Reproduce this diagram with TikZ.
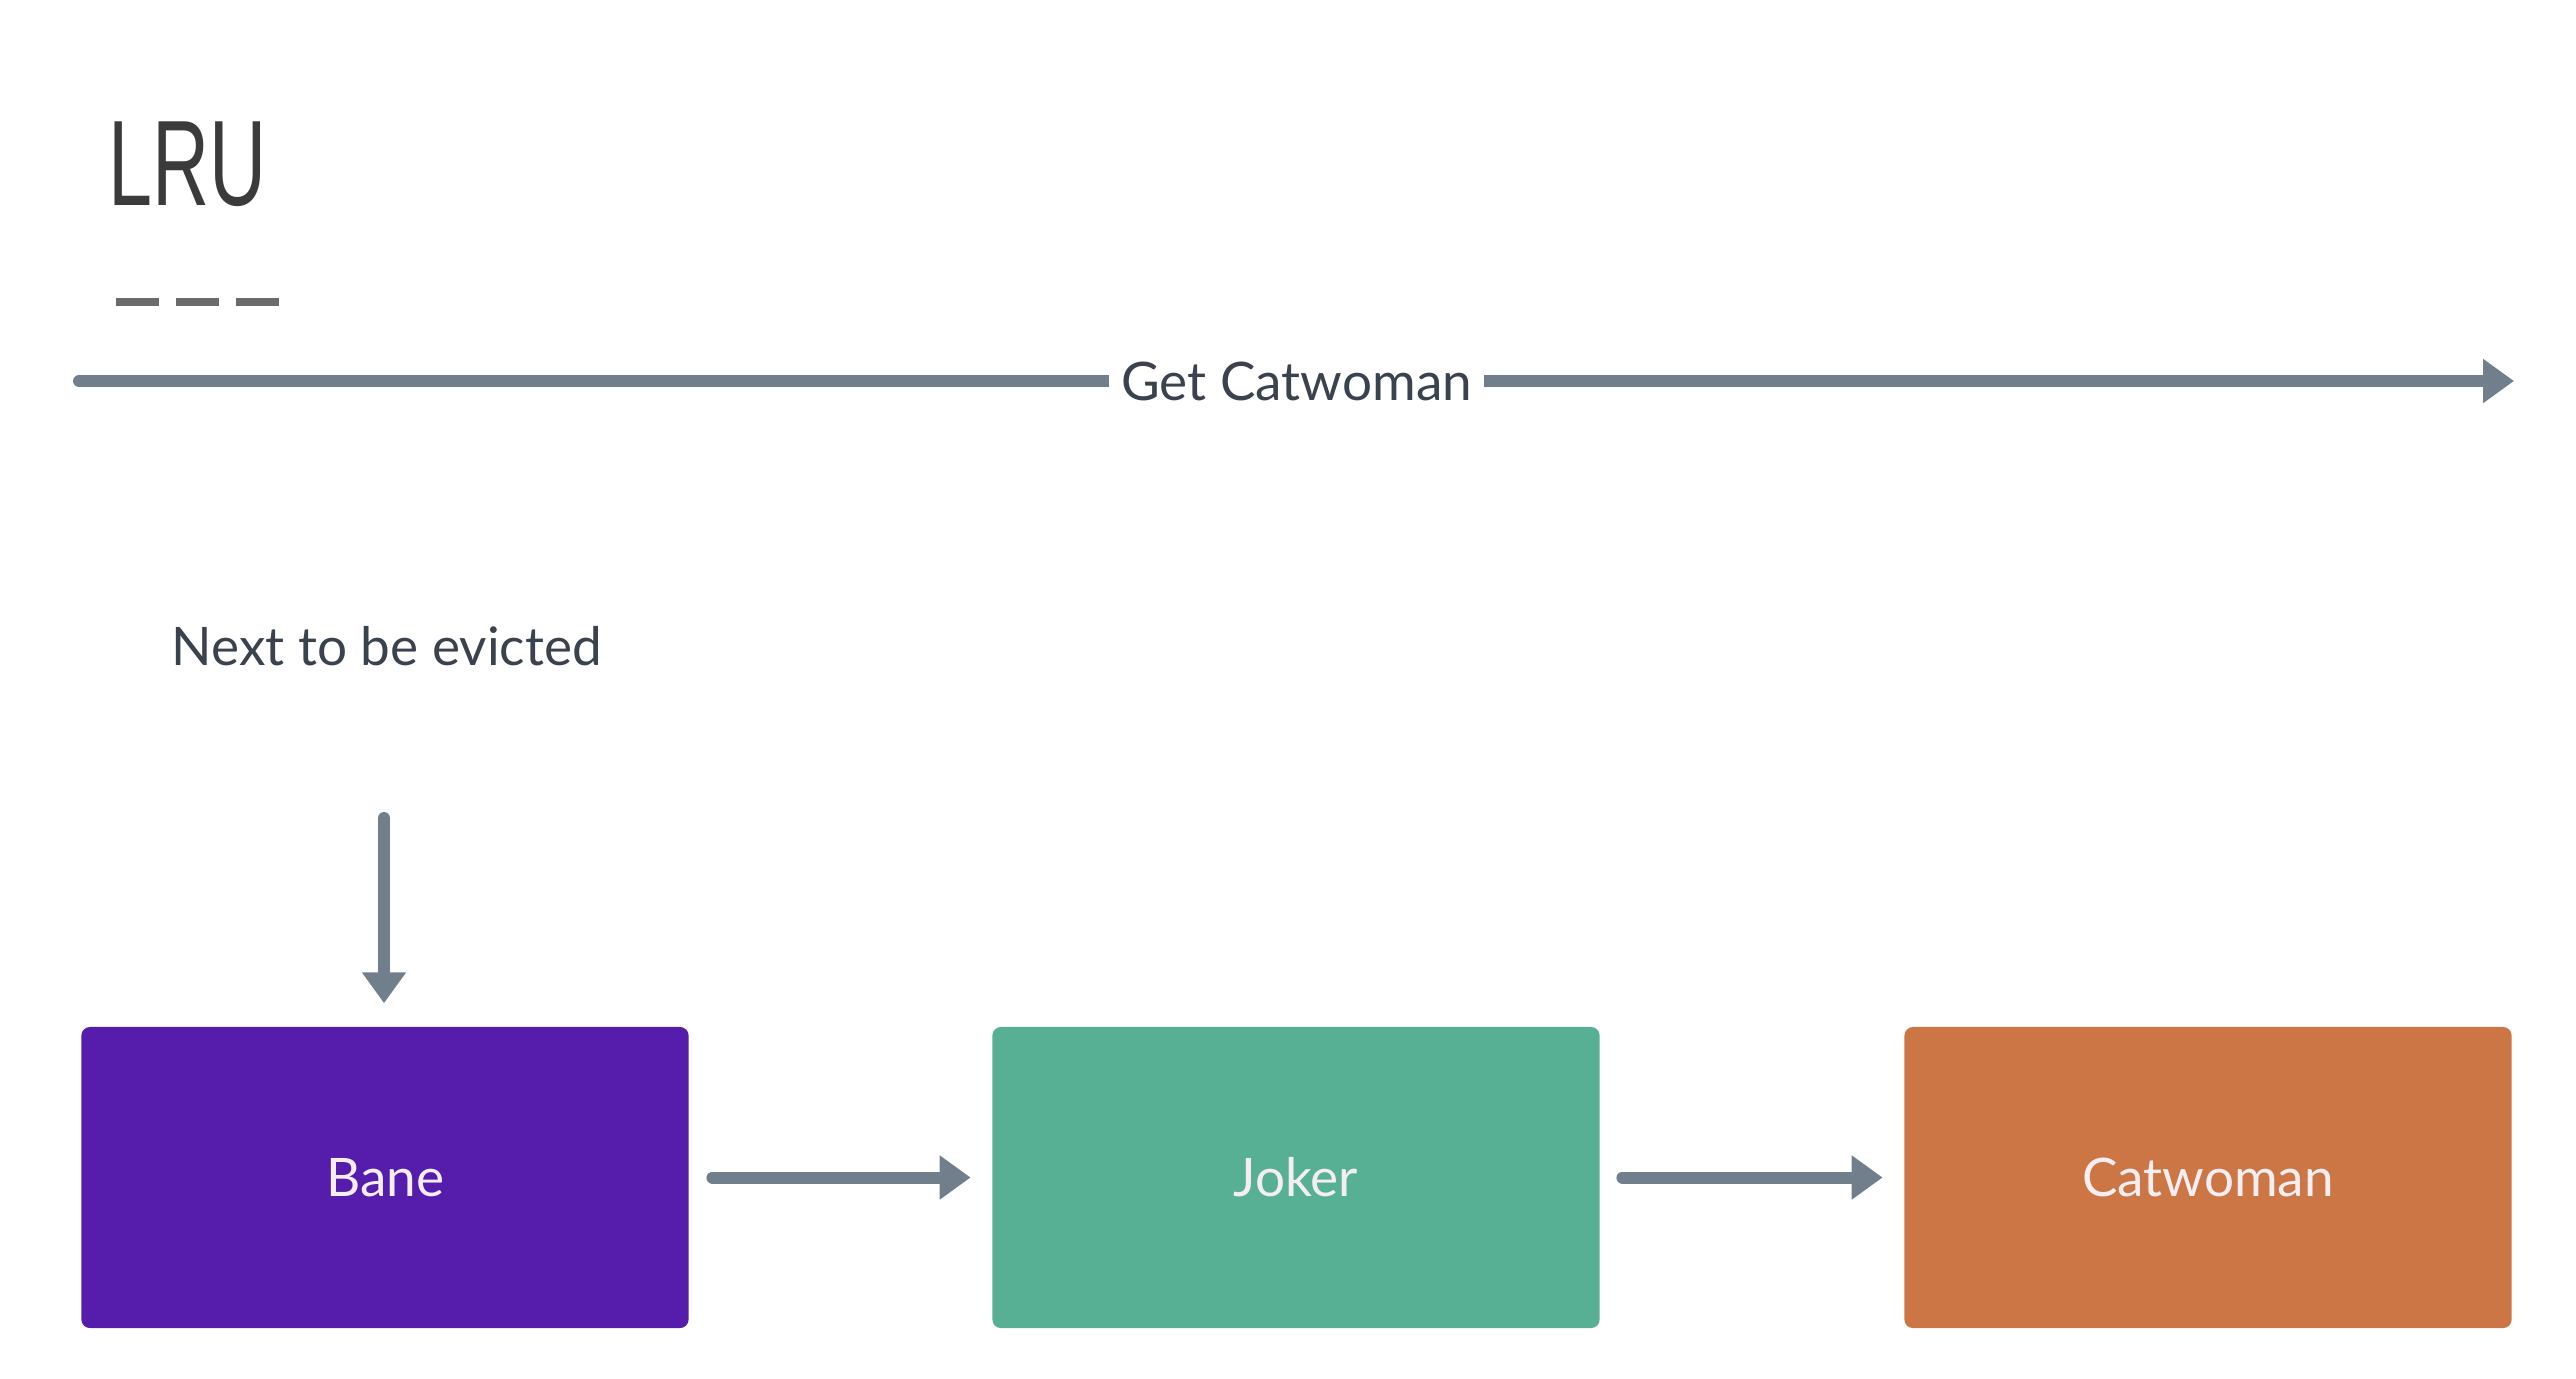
\documentclass[tikz,border=0pt]{standalone}
\usepackage{fontspec}
\setmainfont{Lato}
\newfontfamily\titlefont[FakeStretch=0.65]{Liberation Sans}
\usetikzlibrary{arrows.meta}

\definecolor{arrowgray}{HTML}{717E8B}
\definecolor{titlegray}{HTML}{3B3B3B}
\definecolor{labelgray}{HTML}{3A424D}
\definecolor{banepurple}{HTML}{561CAB}
\definecolor{jokergreen}{HTML}{57B093}
\definecolor{catorange}{HTML}{CD7645}
\definecolor{boxtext}{HTML}{F4EEF2}

\tikzset{
  flow/.style={draw=arrowgray, line width=3.4pt, line cap=round,
    -{Triangle[length=8.8pt,width=12pt]}},
  label/.style={inner sep=0pt, text=labelgray, font=\fontsize{15.1}{18}\selectfont},
  cachebox/.style={rectangle, rounded corners=2.5pt, minimum width=6.07cm,
    minimum height=3.01cm, text=boxtext, font=\fontsize{15.1}{18}\selectfont}
}

\begin{document}
\begin{tikzpicture}[x=0.01cm, y=-0.01cm]
        \useasboundingbox (0, 0) rectangle (2576, 1378);

        % Title
        \node[anchor=base west, inner sep=0pt, text=titlegray,
          font=\titlefont\fontsize{34.6}{40}\selectfont] (title) at (108, 205) {LRU};

        % Rule under the title
        \draw[draw=black!58, line width=2.5pt, dash pattern=on 0.43cm off 0.17cm]
          (116, 302) -- (280, 302);

        % Get request
        \coordinate (getstart) at (79, 381);
        \coordinate (getend) at (2514, 381);
        \draw[flow] (getstart) -- (getend)
          node[midway, label, fill=white, inner xsep=0.12cm, inner ysep=2pt] (get) {Get Catwoman};

        % Eviction pointer
        \node[label, anchor=base west] (evict) at (171, 665) {Next to be evicted};
        \coordinate (evicttop) at (384, 818);

        % Cache entries
        \node[cachebox, fill=banepurple] (bane) at (385, 1177.5) {Bane};
        \node[cachebox, fill=jokergreen] (joker) at (1296, 1177.5) {Joker};
        \node[cachebox, fill=catorange] (catwoman) at (2208, 1177.5) {Catwoman};

        % Links
        \draw[flow, shorten >=0.23cm] (evicttop) -- (evicttop |- bane.north);
        \draw[flow, shorten <=0.23cm, shorten >=0.21cm] (bane) -- (joker);
        \draw[flow, shorten <=0.22cm, shorten >=0.21cm] (joker) -- (catwoman);
    \end{tikzpicture}
\end{document}
